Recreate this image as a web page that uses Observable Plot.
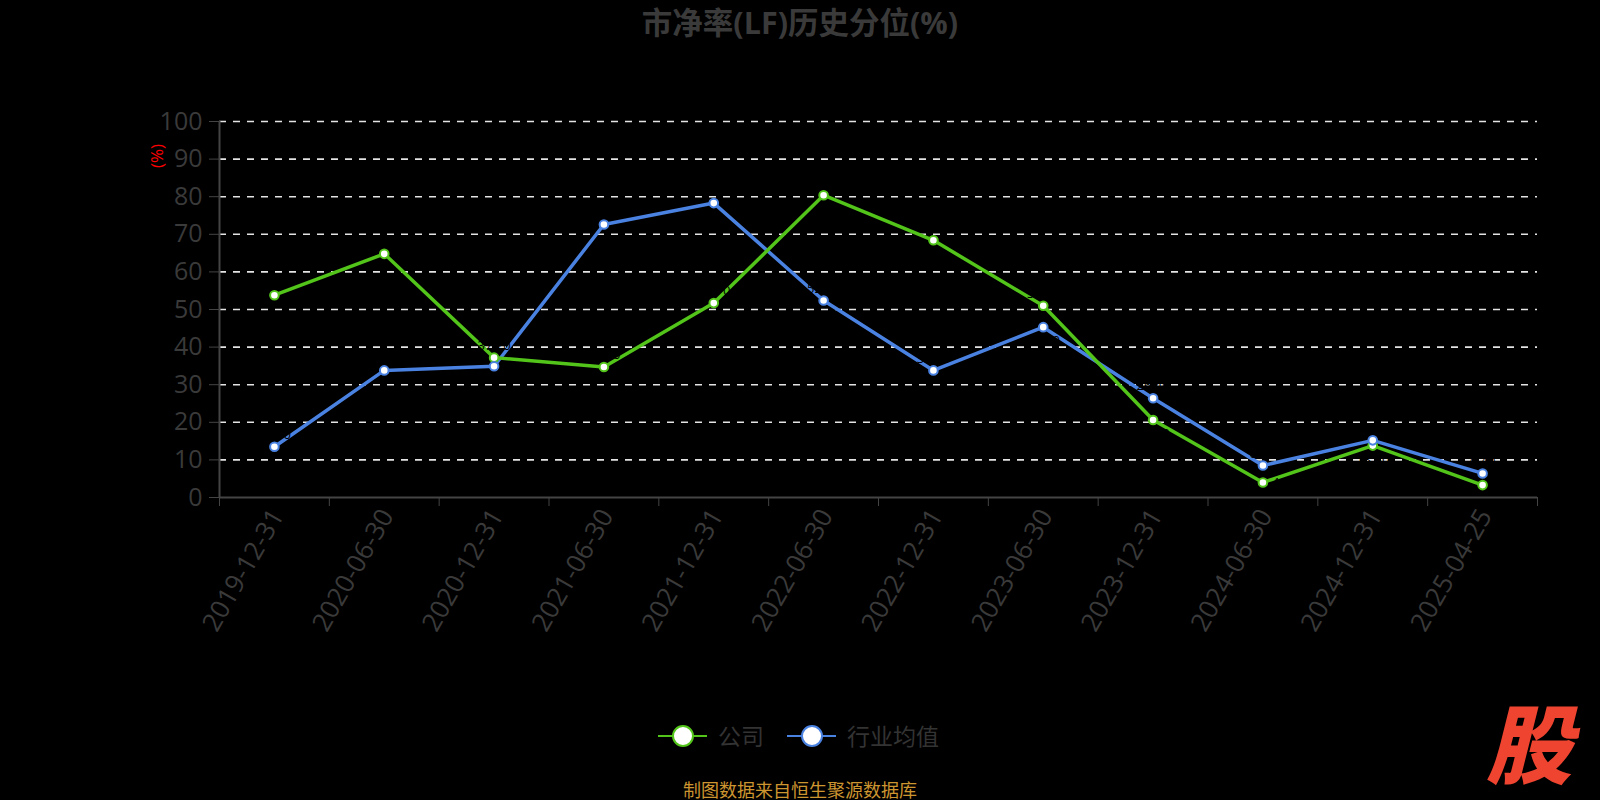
<!DOCTYPE html>
<html><head><meta charset="utf-8">
<script src="https://cdn.jsdelivr.net/npm/d3@7"></script>
<script src="https://cdn.jsdelivr.net/npm/@observablehq/plot@0.6"></script>
<style>
html,body{margin:0;padding:0;background:#000;}
body{width:1600px;height:800px;overflow:hidden;position:relative;font-family:"Open Sans","Noto Sans CJK SC",sans-serif;}
#chart{position:absolute;left:0;top:0;}
#title{position:absolute;left:0;top:2px;width:1600px;text-align:center;font-size:30.5px;font-weight:bold;color:#3a3a3a;font-family:"Open Sans","Noto Sans CJK SC",sans-serif;line-height:40px;}
#unit{position:absolute;left:157px;top:156px;transform:translate(-50%,-50%) rotate(-90deg);font-size:17px;line-height:20px;color:#ff0000;white-space:nowrap;}
#legend{position:absolute;left:0;top:720px;width:1600px;height:32px;}
.item{position:absolute;top:0;height:32px;}
.item .ln{position:absolute;top:15px;height:2px;width:49px;left:0;}
.item .ci{position:absolute;top:5px;left:14px;width:18px;height:18px;border-radius:50%;background:#fff;border:2.5px solid;}
.item .tx{position:absolute;left:60px;top:-2px;font-size:23px;line-height:34px;color:#333;white-space:nowrap;font-family:"Noto Sans CJK SC",sans-serif;}
#footer{position:absolute;left:0;top:778px;width:1600px;text-align:center;font-size:18px;line-height:22px;color:#cc9530;font-family:"Noto Sans CJK SC",sans-serif;}
#logo{position:absolute;left:1486px;top:697px;font-size:86px;line-height:1;font-weight:900;font-style:italic;color:#ee4430;font-family:"Noto Sans CJK SC",sans-serif;}
</style>
</head><body>
<div id="title">市净率(LF)历史分位(%)</div>
<div id="chart"></div>
<div id="unit"></div>
<div id="legend"></div>
<div id="footer">制图数据来自恒生聚源数据库</div>
<div id="logo">股</div>
<script>
const dates = ["2019-12-31","2020-06-30","2020-12-31","2021-06-30","2021-12-31","2022-06-30","2022-12-31","2023-06-30","2023-12-31","2024-06-30","2024-12-31","2025-04-25"];
const company = [53.8, 64.8, 37.2, 34.7, 51.7, 80.4, 68.4, 51.0, 20.6, 4.0, 13.8, 3.3];
const industry = [13.5, 33.8, 34.9, 72.6, 78.3, 52.4, 33.8, 45.3, 26.4, 8.5, 15.2, 6.4];
const seriesNames = ["公司", "行业均值"];
const seriesColors = ["#52c41a", "#4a82e2"];
const yTicks = [0, 10, 20, 30, 40, 50, 60, 70, 80, 90, 100];
const yUnit = "(%)";

document.getElementById("unit").textContent = yUnit;

// label placement: "top" normally; the lower of two close values goes below, or to the side when near the axis
const rows = [];
dates.forEach((d, i) => {
  const close = Math.abs(company[i] - industry[i]) < 8;
  const place = (v, other) => (close && v < other) ? (v > 6 ? "bottom" : "right") : "top";
  rows.push({date: d, i, series: seriesNames[0], value: company[i], place: place(company[i], industry[i])});
  rows.push({date: d, i, series: seriesNames[1], value: industry[i], place: place(industry[i], company[i])});
});
const xPos = d => d.i + 0.5;
const comp = rows.filter(r => r.series === seriesNames[0]);
const ind = rows.filter(r => r.series === seriesNames[1]);
const fmt = d => d.value.toFixed(2);

const chart = Plot.plot({
  width: 1600, height: 800,
  marginLeft: 219, marginRight: 63, marginTop: 121, marginBottom: 303,
  style: {background: "transparent", fontFamily: "'Open Sans','Noto Sans CJK SC',sans-serif"},
  x: {type: "linear", domain: [0, dates.length], axis: null},
  y: {domain: [0, 100], axis: null},
  color: {domain: seriesNames, range: seriesColors},
  marks: [
    Plot.ruleY(yTicks.filter(v => v > 0), {stroke: "#e4e4e4", strokeWidth: 1.6, strokeDasharray: "7,7"}),
    Plot.axisY({ticks: yTicks, tickSize: 10, tickPadding: 7, fontSize: 25, color: "#3a3a3a", stroke: "#444", label: null, tickFormat: d => String(d)}),
    Plot.axisX({ticks: d3.range(dates.length + 1), tickSize: 9, tickFormat: () => "", stroke: "#444", label: null}),
    Plot.ruleY([0], {stroke: "#444", strokeWidth: 2}),
    Plot.ruleX([0], {stroke: "#444", strokeWidth: 2}),
    Plot.text(dates, {x: (d, i) => i + 0.5, y: 0, text: d => d, rotate: -60, textAnchor: "end", lineAnchor: "middle", dx: 3, dy: 14, fontSize: 26, fill: "#3a3a3a"}),
    Plot.line(ind, {x: xPos, y: "value", stroke: "series", strokeWidth: 3.5}),
    Plot.line(comp, {x: xPos, y: "value", stroke: "series", strokeWidth: 3.5}),
    Plot.text(rows.filter(d => d.place === "top"), {x: xPos, y: "value", text: fmt, dy: -12, fill: "#000", fontSize: 13}),
    Plot.text(rows.filter(d => d.place === "bottom"), {x: xPos, y: "value", text: fmt, dy: 14, fill: "#000", fontSize: 13}),
    Plot.text(rows.filter(d => d.place === "right"), {x: xPos, y: "value", text: fmt, dx: 9, textAnchor: "start", fill: "#000", fontSize: 13}),
    Plot.dot(comp, {x: xPos, y: "value", r: 4.3, fill: "#fff", stroke: "series", strokeWidth: 2}),
    Plot.dot(ind, {x: xPos, y: "value", r: 4.3, fill: "#fff", stroke: "series", strokeWidth: 2})
  ]
});
document.getElementById("chart").appendChild(chart);

const legend = document.getElementById("legend");
const legendLefts = [658, 787];
seriesNames.forEach((name, k) => {
  const it = document.createElement("div");
  it.className = "item";
  it.style.left = legendLefts[k] + "px";
  it.innerHTML = `<div class="ln" style="background:${seriesColors[k]}"></div><div class="ci" style="border-color:${seriesColors[k]}"></div><div class="tx">${name}</div>`;
  legend.appendChild(it);
});
</script>
</body></html>
